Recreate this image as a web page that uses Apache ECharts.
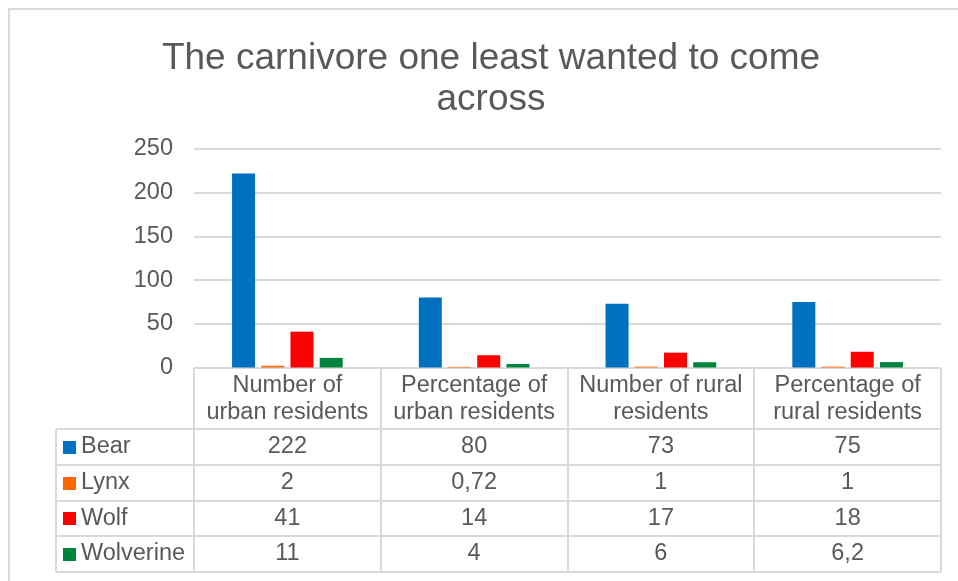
<!DOCTYPE html>
<html><head><meta charset="utf-8">
<script src="https://cdn.jsdelivr.net/npm/echarts@6/dist/echarts.min.js"></script>
<style>html,body{margin:0;padding:0;background:#fff}#c{width:958px;height:581px}</style>
</head><body><div id="c"></div>
<script>
const titleText = 'The carnivore one least wanted to come\nacross';
const categories = ['Number of\nurban residents', 'Percentage of\nurban residents', 'Number of rural\nresidents', 'Percentage of\nrural residents'];
const seriesNames = ['Bear', 'Lynx', 'Wolf', 'Wolverine'];
const bear = [222, 80, 73, 75];
const lynx = [2, 0.72, 1, 1];
const wolf = [41, 14, 17, 18];
const wolverine = [11, 4, 6, 6.2];
const yMin = 0, yMax = 250, yStep = 50;

const seriesValues = [bear, lynx, wolf, wolverine];
const colors = ['#0070C0', '#FF6600', '#FF0000', '#00843D'];
const FONT = "'Liberation Sans', Arial, sans-serif";
const TXT = '#595959';
const LINE = '#D9D9D9';
const FS = 23.5;

const chart = echarts.init(document.getElementById('c'), null, {renderer: 'canvas'});
chart.setOption({
  animation: false,
  backgroundColor: '#fff',
  textStyle: {fontFamily: FONT},
  title: {
    text: titleText, left: 486, top: 33, textAlign: 'center',
    textStyle: {fontFamily: FONT, fontSize: 37, fontWeight: 'normal', color: TXT, lineHeight: 41}
  },
  grid: {left: 194, right: 17, top: 149, bottom: 213.5, containLabel: false},
  xAxis: {
    type: 'category', data: categories,
    axisLine: {show: false}, axisTick: {show: false}, axisLabel: {show: false}
  },
  yAxis: {
    type: 'value', min: yMin, max: yMax, interval: yStep,
    axisLine: {show: false}, axisTick: {show: false},
    axisLabel: {fontFamily: FONT, fontSize: FS, color: TXT, margin: 21},
    splitLine: {lineStyle: {color: LINE, width: 2}}
  },
  series: seriesNames.map((n, i) => ({
    name: n, type: 'bar', data: seriesValues[i], barWidth: 23, barGap: '27%',
    itemStyle: {color: colors[i]}
  }))
});

// data table drawn below the plot, positioned from the category axis
const centers = categories.map((c, i) => chart.convertToPixel({xAxisIndex: 0}, i));
const band = centers[1] - centers[0];
const bounds = [centers[0] - band / 2].concat(centers.map(c => c + band / 2)).map(Math.round);
const y0 = Math.round(chart.convertToPixel({yAxisIndex: 0}, 0));
const tableLeft = 56;
const headerBottom = 429;
const rowH = 35.75;
const rowYs = [0, 1, 2, 3, 4].map(k => Math.round(headerBottom + k * rowH));
const fmt = v => String(v).replace('.', ',');
const font = FS + 'px ' + FONT;

const g = [];
g.push({type: 'rect', shape: {x: 9, y: 9, width: 1200, height: 1200}, style: {fill: null, stroke: LINE, lineWidth: 2}, silent: true});
g.push({type: 'line', shape: {x1: bounds[0], y1: y0, x2: bounds[4], y2: y0}, style: {stroke: LINE, lineWidth: 2}});
rowYs.forEach(y => g.push({type: 'line', shape: {x1: tableLeft, y1: y, x2: bounds[4], y2: y}, style: {stroke: LINE, lineWidth: 2}}));
g.push({type: 'line', shape: {x1: tableLeft, y1: rowYs[0], x2: tableLeft, y2: rowYs[4]}, style: {stroke: LINE, lineWidth: 2}});
bounds.forEach(x => g.push({type: 'line', shape: {x1: x, y1: y0, x2: x, y2: rowYs[4]}, style: {stroke: LINE, lineWidth: 2}}));
categories.forEach((c, i) => g.push({
  type: 'text', x: centers[i], y: (y0 + headerBottom) / 2 + 0.5,
  style: {text: c, font: font, fill: TXT, align: 'center', verticalAlign: 'middle', lineHeight: 26.5}
}));
seriesNames.forEach((n, r) => {
  const cy = (rowYs[r] + rowYs[r + 1]) / 2;
  g.push({type: 'rect', shape: {x: 63, y: Math.round(cy - 6.5), width: 13, height: 13}, style: {fill: colors[r]}});
  g.push({type: 'text', x: 81, y: cy, style: {text: n, font: font, fill: TXT, align: 'left', verticalAlign: 'middle'}});
  seriesValues[r].forEach((v, i) => g.push({
    type: 'text', x: centers[i], y: cy,
    style: {text: fmt(v), font: font, fill: TXT, align: 'center', verticalAlign: 'middle'}
  }));
});
chart.setOption({graphic: g});
</script></body></html>
